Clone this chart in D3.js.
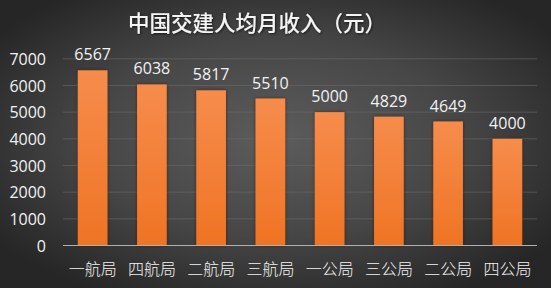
<!DOCTYPE html>
<html><head><meta charset="utf-8">
<script src="https://cdn.jsdelivr.net/npm/d3@7"></script>
<style>html,body{margin:0;padding:0;background:#2c2c2c;overflow:hidden}</style>
</head><body>
<script>
const categories = ["一航局","四航局","二航局","三航局","一公局","三公局","二公局","四公局"];
const values = [6567,6038,5817,5510,5000,4829,4649,4000];
const yTicks = [0,1000,2000,3000,4000,5000,6000,7000];
const title = "中国交建人均月收入（元）";

const W=551,H=288;
const svg=d3.select("body").append("svg").attr("width",W).attr("height",H);
const defs=svg.append("defs");
const rg=defs.append("radialGradient").attr("id","bg").attr("cx","50%").attr("cy","48%").attr("r","62%");
rg.append("stop").attr("offset","0%").attr("stop-color","#5c5c5c");
rg.append("stop").attr("offset","55%").attr("stop-color","#464646");
rg.append("stop").attr("offset","100%").attr("stop-color","#262626");
const lg=defs.append("linearGradient").attr("id","bar").attr("x1",0).attr("y1",0).attr("x2",0).attr("y2",1);
lg.append("stop").attr("offset","0%").attr("stop-color","#f68c4c");
lg.append("stop").attr("offset","100%").attr("stop-color","#ef7424");
const f=defs.append("filter").attr("id","sh").attr("x","-30%").attr("y","-10%").attr("width","160%").attr("height","120%");
f.append("feDropShadow").attr("dx",0).attr("dy",0).attr("stdDeviation",1.6).attr("flood-color","#3a1a05").attr("flood-opacity",0.9);
const tf=defs.append("filter").attr("id","tsh").attr("x","-10%").attr("y","-30%").attr("width","120%").attr("height","160%");
tf.append("feDropShadow").attr("dx",1).attr("dy",1).attr("stdDeviation",1).attr("flood-color","#000").attr("flood-opacity",0.6);

svg.append("rect").attr("width",W).attr("height",H).attr("fill","url(#bg)");

const x=d3.scaleBand().domain(categories).range([63,537]).paddingInner(0.5).paddingOuter(0.25);
const y=d3.scaleLinear().domain([0,7000]).range([245.5,58.8]);

svg.append("g").selectAll("line").data(yTicks.slice(1)).join("line")
  .attr("x1",63).attr("x2",537).attr("y1",d=>y(d)).attr("y2",d=>y(d))
  .attr("stroke","#6a6a6a").attr("stroke-width",1).attr("opacity",0.6);

const yAxis=svg.append("g").attr("transform","translate(46,0)")
  .call(d3.axisLeft(y).tickValues(yTicks).tickSize(0).tickPadding(0).tickFormat(d3.format("d")));
yAxis.select(".domain").remove();
yAxis.selectAll("text").attr("fill","#f2f2f2").attr("font-family","'Open Sans',sans-serif").attr("font-size","16px").attr("dy","0.35em");

svg.append("g").selectAll("rect").data(values).join("rect")
  .attr("x",(d,i)=>x(categories[i])).attr("width",x.bandwidth())
  .attr("y",d=>y(d)).attr("height",d=>y(0)-y(d))
  .attr("fill","url(#bar)").attr("filter","url(#sh)");

svg.append("line").attr("x1",63).attr("x2",537).attr("y1",y(0)).attr("y2",y(0))
  .attr("stroke","#b0b0b0").attr("stroke-width",1.2);

svg.append("g").selectAll("text").data(values).join("text")
  .attr("x",(d,i)=>x(categories[i])+x.bandwidth()/2).attr("y",d=>y(d)-10)
  .attr("text-anchor","middle").attr("fill","#f2f2f2")
  .attr("font-family","'Open Sans',sans-serif").attr("font-size","16px").text(d=>d);

const xAxis=svg.append("g").attr("transform",`translate(0,${y(0)})`)
  .call(d3.axisBottom(x).tickSize(0).tickPadding(0));
xAxis.select(".domain").remove();
xAxis.selectAll("text").attr("fill","#f2f2f2").attr("font-family","'Noto Sans CJK SC',sans-serif")
  .attr("font-size","16px").attr("font-weight","300").attr("dy","0").attr("y",29);

svg.append("text").attr("x",257).attr("y",31).attr("text-anchor","middle")
  .attr("fill","#f4f4f4").attr("font-family","'Noto Sans CJK SC',sans-serif").attr("font-size","21.5px")
  .attr("font-weight","500").attr("filter","url(#tsh)").text(title);
</script>
</body></html>
